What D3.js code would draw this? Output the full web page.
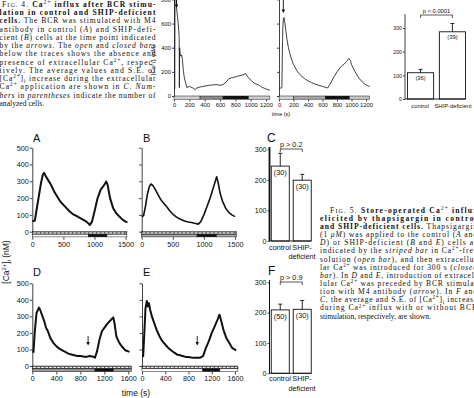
<!DOCTYPE html>
<html>
<head>
<meta charset="utf-8">
<script src="https://cdn.jsdelivr.net/npm/d3@7"></script>
<style>
  body { margin: 0; background: #fff; }
  svg { display: block; }
  text { font-family: "Liberation Sans", Arial, sans-serif; fill: #111; }
  .cap text { font-family: "Liberation Serif", "Times New Roman", serif; }
</style>
</head>
<body>
<svg id="fig" width="474" height="398"></svg>
<script>
// ---------- Fig. 4 traces: [time (s), [Ca2+]i (nM)]
var fig4Control = [[0,60],[10,62],[13,830],[28,830],[35,720],[45,660],[55,600],[65,520],[68,470],[70,70],[73,400],
  [80,350],[90,330],[100,340],[110,300],[120,220],[135,150],[150,115],[167,70],[200,80],[250,65],[277,53],[300,68],
  [343,75],[400,82],[450,88],[500,92],[563,94],[600,88],[640,95],[680,115],[716,144],[760,152],[800,158],[826,164],
  [870,170],[900,175],[936,186],[960,160],[1002,130],[1050,105],[1112,89],[1150,72],[1200,58],[1250,48]];
var fig4Ship = [[0,65],[30,66],[40,70],[45,300],[52,560],[60,640],[68,650],[80,610],[95,540],[110,470],[130,400],
  [150,350],[175,300],[200,260],[250,205],[300,170],[350,145],[400,125],[450,110],[500,98],[550,88],[600,80],
  [650,70],[670,66],[700,95],[750,150],[800,200],[850,240],[900,265],[930,285],[965,310],[985,295],[1000,260],
  [1050,200],[1100,150],[1150,115],[1200,92],[1250,78]];
var fig4XTicks = [0, 200, 400, 600, 800, 1000, 1200];
var fig4YTicks = [0, 200, 400, 600, 800];
var fig4Arrows = [33, 60];
// shading of the bar under each trace: [start, end, colour]
var fig4ControlBar = [[0,340,"#d4d4d4"],[340,640,"#8a8a8a"],[640,970,"#111"],[970,1250,"#cfcfcf"]];
var fig4ShipBar = [[0,200,"#d8d8d8"],[200,640,"#a8a8a8"],[640,970,"#111"],[970,1250,"#c8c8c8"]];

// Fig. 4 C
var groups = ["control", "SHIP-deficient"];
var fig4Means = [111, 284];
var fig4Errs = [14, 35];
var fig4Counts = ["(36)", "(39)"];
var fig4BarTicks = [0, 100, 200, 300];

// ---------- Fig. 5 traces
var traceA = [[0,63],[40,65],[60,110],[100,200],[140,290],[170,340],[190,350],[210,335],[250,310],[300,280],
  [350,240],[400,210],[450,180],[500,160],[550,140],[600,120],[650,105],[700,95],[750,85],[800,75],[850,65],
  [900,50],[925,40],[960,60],[1000,120],[1050,200],[1100,250],[1150,275],[1190,298],[1210,280],[1250,200],
  [1300,140],[1350,110],[1400,90],[1450,72],[1500,60],[1530,55]];
var traceB = [[0,90],[30,95],[60,150],[90,220],[120,265],[145,284],[180,275],[220,250],[260,222],[300,195],
  [350,170],[400,150],[450,125],[500,105],[550,90],[600,78],[650,70],[700,62],[750,58],[800,55],[850,50],
  [910,45],[950,60],[1000,100],[1050,150],[1100,200],[1150,260],[1205,327],[1230,290],[1260,230],[1300,180],
  [1350,140],[1400,115],[1450,100],[1500,90]];
var traceD = [[0,90],[20,85],[40,200],[70,320],[110,353],[130,340],[160,310],[200,270],[230,230],[250,218],
  [270,200],[300,170],[350,140],[400,120],[450,105],[500,95],[550,85],[600,75],[650,70],[700,65],[750,60],
  [800,60],[850,58],[900,55],[950,60],[1000,58],[1044,50],[1080,90],[1120,160],[1160,210],[1200,230],
  [1250,255],[1300,275],[1350,294],[1370,260],[1400,180],[1450,140],[1500,115],[1550,95],[1620,85]];
var traceE = [[0,60],[20,60],[40,200],[60,350],[83,393],[100,360],[120,380],[140,340],[170,300],[200,270],
  [250,220],[300,180],[350,150],[400,130],[450,110],[500,95],[550,82],[600,70],[650,65],[700,60],[750,55],
  [800,55],[850,52],[900,50],[950,50],[1000,50],[1050,60],[1100,110],[1150,150],[1200,200],[1250,240],
  [1300,280],[1333,310],[1350,290],[1400,220],[1450,170],[1500,140],[1550,110],[1620,95]];
var fig5YTicks = [0, 100, 200, 300, 400, 500];
var ticksAB = [0, 500, 1000, 1500];
var ticksDE = [0, 400, 800, 1200, 1600];
// open / closed bars: [start, end, colour]
var barA = [[0,900,"#fff"],[900,1200,"#111"],[1200,1520,"#fff"]];
var barB = [[0,890,"#aaa"],[890,1200,"#111"],[1200,1520,"#aaa"]];
var barD = [[0,1045,"#999"],[1045,1350,"#111"],[1350,1650,"#999"]];
var barE = [[0,1045,"#fff"],[1045,1340,"#111"],[1340,1650,"#fff"]];
var arrowD = 930, arrowE = 950;

// Fig. 5 C and F
var cMeans = [245, 199], cErrs = [42, 19], cCounts = ["(30)", "(30)"];
var fMeans = [209, 211], fErrs = [19, 29], fCounts = ["(50)", "(30)"];
var barTicks5 = [0, 100, 200, 300];

var fig4Caption = [
  "F%IG.% 4. *Ca*^2+^* influx after BCR stimu-*",
  "*lation in control and SHIP-deficient*",
  "*cells.* The BCR was stimulated with M4",
  "antibody in control (_A_) and SHIP-defi-",
  "cient (_B_) cells at the time point indicated",
  "by the _arrows_. The _open_ and _closed bars_",
  "below the traces shows the absence and",
  "presence of extracellular Ca^2+^, respec-",
  "tively. The average values and S.E. of",
  "[Ca^2+^]~i~ increase during the extracellular",
  "Ca^2+^ application are shown in _C_. _Num-_",
  "_bers_ in _parentheses_ indicate the number of",
  "analyzed cells."
];
var fig5Caption = [
  "F%IG.% 5. *Store-operated Ca*^2+^* influx*",
  "*elicited by thapsigargin in control*",
  "*and SHIP-deficient cells.* Thapsigargin",
  "(1 _μM_) was applied to the control (_A_ and",
  "_D_) or SHIP-deficient (_B_ and _E_) cells as",
  "indicated by the _striped bar_ in Ca^2+^-free",
  "solution (_open bar_), and then extracellu-",
  "lar Ca^2+^ was introduced for 300 s (_closed_",
  "_bar_). In _D_ and _E_, introduction of extracel-",
  "lular Ca^2+^ was preceded by BCR stimula-",
  "tion with M4 antibody (_arrow_). In _F_ and",
  "_C_, the average and S.E. of [Ca^2+^]~i~ increase",
  "during Ca^2+^ influx with or without BCR",
  "stimulation, respectively, are shown."
];

var svg = d3.select("#fig");

// small markup: *bold* _italic_ ^sup^ ~sub~ %smallcaps%
function richText(parent, x, y, str, size, opts) {
  opts = opts || {};
  var t = parent.append("text").attr("x", x).attr("y", y)
    .style("font-size", size + "px")
    .attr("text-anchor", opts.anchor || "start");
  if (opts.transform) t.attr("transform", opts.transform);
  var kinds = {"*": "b", "_": "i", "^": "sup", "~": "sub", "%": "sc"};
  var parts = str.split(/(\*[^*]*\*|_[^_]*_|\^[^^]*\^|~[^~]*~|%[^%]*%)/).filter(function(s) { return s.length; });
  var shift = 0;
  parts.forEach(function(s) {
    var c = s[0];
    var k = (kinds[c] && s.length > 1 && s[s.length - 1] === c) ? kinds[c] : null;
    var body = k ? s.slice(1, -1) : s;
    var ts = t.append("tspan").text(body);
    var target = 0;
    if (k === "b") ts.style("font-weight", "bold");
    if (k === "i") ts.style("font-style", "italic");
    if (k === "sup") { ts.style("font-size", size * 0.68 + "px"); target = -size * 0.38; }
    if (k === "sub") { ts.style("font-size", size * 0.68 + "px"); target = size * 0.22; }
    if (k === "sc") ts.style("font-size", size * 0.78 + "px");
    if (target !== shift) { ts.attr("dy", target - shift); shift = target; }
  });
  if (opts.width) t.attr("textLength", opts.width).attr("lengthAdjust", "spacing");
  return t;
}

function styleAxis(a, size) {
  a.selectAll("path, line").attr("stroke", "#111").attr("stroke-width", 0.8);
  a.selectAll("text").style("font-size", size + "px").attr("fill", "#111");
}

// trace panel with bars underneath
function tracePanel(p) {
  var x = d3.scaleLinear().domain(p.xDomain).range(p.xRange);
  var y = d3.scaleLinear().domain(p.yDomain).range(p.yRange);
  var g = svg.append("g");

  // bars below trace
  var barTop = p.yRange[0];
  if (p.striped) {
    g.append("rect").attr("x", x(0)).attr("y", barTop)
      .attr("width", x(p.barEnd) - x(0)).attr("height", p.stripeH)
      .attr("fill", "#666").attr("stroke", "#111").attr("stroke-width", 0.5);
    g.append("line").attr("x1", x(0) + 1).attr("x2", x(p.barEnd) - 1)
      .attr("y1", barTop + p.stripeH / 2).attr("y2", barTop + p.stripeH / 2)
      .attr("stroke", "#fff").attr("stroke-width", 1).attr("stroke-dasharray", "2.6,1.4");
    barTop += p.stripeH;
  }
  g.selectAll(".seg").data(p.bar).enter().append("rect")
    .attr("x", function(d) { return x(d[0]); })
    .attr("y", barTop)
    .attr("width", function(d) { return x(d[1]) - x(d[0]); })
    .attr("height", p.barH)
    .attr("fill", function(d) { return d[2]; })
    .attr("stroke", "#111").attr("stroke-width", 0.5);
  var barBottom = barTop + p.barH;

  // axes
  var yAxis = d3.axisLeft(y).tickValues(p.yTicks).tickSize(p.tick).tickSizeOuter(0).tickPadding(1);
  if (!p.yLabels) yAxis.tickFormat("");
  var ya = g.append("g").attr("transform", "translate(" + p.xRange[0] + ",0)").call(yAxis);
  styleAxis(ya, p.font);

  var xAxis = d3.axisBottom(x).tickValues(p.xTicks).tickFormat(d3.format("d"))
    .tickSize(p.tick).tickPadding(p.xPad);
  var xa = g.append("g").attr("transform", "translate(0," + (barBottom + 0.3) + ")").call(xAxis);
  xa.select(".domain").remove();
  styleAxis(xa, p.font);

  // trace
  var line = d3.line().x(function(d) { return x(d[0]); }).y(function(d) { return y(d[1]); });
  g.append("path").datum(p.data).attr("d", line)
    .attr("fill", "none").attr("stroke", "#111")
    .attr("stroke-width", p.sw).attr("stroke-linejoin", "round");

  // arrows
  (p.arrows || []).forEach(function(a) {
    var ax = x(a.t), y0 = a.top, y1 = a.tip;
    g.append("line").attr("x1", ax).attr("x2", ax).attr("y1", y0).attr("y2", y1 - 2)
      .attr("stroke", "#111").attr("stroke-width", 0.9);
    g.append("path").attr("d", "M" + (ax - 1.8) + "," + (y1 - 3.5) + "L" + (ax + 1.8) + "," + (y1 - 3.5) + "L" + ax + "," + y1 + "Z")
      .attr("fill", "#111");
  });

  if (p.letter) {
    g.append("text").attr("x", p.letter[0]).attr("y", p.letter[1])
      .style("font-size", "11px").text(p.letter[2]);
  }
  return g;
}

// bar chart with error bars and bracket
function barPanel(p) {
  var x = d3.scaleBand().domain(groups).range(p.xRange).paddingInner(0.18).paddingOuter(0.08);
  var y = d3.scaleLinear().domain([0, 300]).range(p.yRange);
  var g = svg.append("g");
  var bw = x.bandwidth();

  g.selectAll(".bar").data(p.means).enter().append("rect")
    .attr("x", function(d, i) { return x(groups[i]); })
    .attr("y", function(d) { return y(d); })
    .attr("width", bw)
    .attr("height", function(d) { return y(0) - y(d); })
    .attr("fill", "#fff").attr("stroke", "#111").attr("stroke-width", 0.9);

  p.means.forEach(function(m, i) {
    var cx = x(groups[i]) + bw / 2;
    g.append("line").attr("x1", cx).attr("x2", cx).attr("y1", y(m)).attr("y2", y(m + p.errs[i]))
      .attr("stroke", "#111").attr("stroke-width", 0.9);
    g.append("line").attr("x1", cx - 2).attr("x2", cx + 2).attr("y1", y(m + p.errs[i])).attr("y2", y(m + p.errs[i]))
      .attr("stroke", "#111").attr("stroke-width", 0.9);
    g.append("text").attr("x", cx).attr("y", y(m) + p.countDy).attr("text-anchor", "middle")
      .style("font-size", p.font + "px").text(p.counts[i]);
  });

  var ya = g.append("g").attr("transform", "translate(" + p.xRange[0] + ",0)")
    .call(d3.axisLeft(y).tickValues(barTicks5).tickSize(2).tickSizeOuter(0).tickPadding(1));
  ya.select(".domain").attr("d", "M0," + y(0) + "V" + p.axisTop);
  styleAxis(ya, p.tickFont);
  ya.select(".domain").attr("stroke-width", p.axisW);

  g.append("line").attr("x1", p.xRange[0]).attr("x2", x(groups[1]) + bw)
    .attr("y1", y(0)).attr("y2", y(0)).attr("stroke", "#111").attr("stroke-width", 0.9);

  // bracket
  var bx0 = x(groups[0]) + bw / 2, bx1 = x(groups[1]) + bw / 2, by = p.bracketY;
  g.append("path").attr("d", "M" + bx0 + "," + (by + 3) + "V" + by + "H" + bx1 + "V" + (by + 3))
    .attr("fill", "none").attr("stroke", "#111").attr("stroke-width", 0.7);
  g.append("text").attr("x", (bx0 + bx1) / 2).attr("y", by - 2).attr("text-anchor", "middle")
    .style("font-size", p.font + "px").text(p.pText);

  // category labels
  p.catLabels.forEach(function(c) {
    g.append("text").attr("x", c[0]).attr("y", c[1]).attr("text-anchor", "middle")
      .style("font-size", p.font + "px").text(c[2]);
  });
  if (p.letter) {
    g.append("text").attr("x", p.letter[0]).attr("y", p.letter[1])
      .style("font-size", "12px").text(p.letter[2]);
  }
}

// ---------- Fig. 4
tracePanel({
  xDomain: [0, 1200], xRange: [174, 266], yDomain: [0, 800], yRange: [96, -0.6],
  data: fig4Control, yTicks: fig4YTicks, xTicks: fig4XTicks, yLabels: true,
  bar: fig4ControlBar, barH: 3.2, striped: false, tick: 2, xPad: 1.5, font: 5.8, sw: 0.8,
  arrows: [{t: fig4Arrows[0], top: -1, tip: 8}]
});
tracePanel({
  xDomain: [0, 1200], xRange: [279, 366], yDomain: [0, 800], yRange: [96, -0.6],
  data: fig4Ship, yTicks: fig4YTicks, xTicks: fig4XTicks, yLabels: false,
  bar: fig4ShipBar, barH: 3.2, striped: false, tick: 2, xPad: 1.5, font: 5.8, sw: 0.8,
  arrows: [{t: fig4Arrows[1], top: -1, tip: 13}]
});
richText(svg, 0, 0, "[Ca^2+^]~i~ (nM)", 6, {anchor: "middle", transform: "translate(155,60) rotate(-90)"});
svg.append("text").attr("x", 281).attr("y", 116).attr("text-anchor", "middle")
  .style("font-size", "5.5px").text("time (s)");

barPanel({
  xRange: [405, 468], yRange: [99, 28], means: fig4Means, errs: fig4Errs, counts: fig4Counts,
  countDy: 7, font: 5.8, tickFont: 5.2, axisTop: 14, axisW: 0.8, bracketY: 15, pText: "p < 0.0001",
  catLabels: [[420, 108, "control"], [453, 108, "SHIP-deficient"]]
});

// ---------- Fig. 5
tracePanel({
  xDomain: [0, 1500], xRange: [32.3, 125.6], yDomain: [0, 500], yRange: [231.7, 147.7],
  data: traceA, yTicks: fig5YTicks, xTicks: ticksAB, yLabels: true,
  bar: barA, barEnd: 1520, striped: true, stripeH: 2.6, barH: 2.6, tick: 2.5, xPad: 2.5, font: 7.2, sw: 2,
  letter: [33, 142, "A"]
});
tracePanel({
  xDomain: [0, 1500], xRange: [141.7, 235], yDomain: [0, 500], yRange: [231.7, 147.7],
  data: traceB, yTicks: fig5YTicks, xTicks: ticksAB, yLabels: false,
  bar: barB, barEnd: 1520, striped: true, stripeH: 2.6, barH: 2.6, tick: 2.5, xPad: 2.5, font: 7.2, sw: 1.6,
  letter: [143, 142, "B"]
});
tracePanel({
  xDomain: [0, 1600], xRange: [32.3, 128.3], yDomain: [0, 500], yRange: [366, 283.3],
  data: traceD, yTicks: fig5YTicks, xTicks: ticksDE, yLabels: true,
  bar: barD, barEnd: 1650, striped: true, stripeH: 2.8, barH: 2.8, tick: 2.5, xPad: 1.2, font: 7.2, sw: 2,
  arrows: [{t: arrowD, top: 336, tip: 345.5}],
  letter: [33, 276, "D"]
});
tracePanel({
  xDomain: [0, 1600], xRange: [142, 235], yDomain: [0, 500], yRange: [366, 283.3],
  data: traceE, yTicks: fig5YTicks, xTicks: ticksDE, yLabels: false,
  bar: barE, barEnd: 1650, striped: true, stripeH: 2.8, barH: 2.8, tick: 2.5, xPad: 1.2, font: 7.2, sw: 2,
  arrows: [{t: arrowE, top: 336, tip: 345.5}],
  letter: [143, 276, "E"]
});
richText(svg, 0, 0, "[Ca^2+^]~i~ (nM)", 8.5, {anchor: "middle", transform: "translate(9,262) rotate(-90)"});
svg.append("text").attr("x", 136).attr("y", 396).attr("text-anchor", "middle")
  .style("font-size", "8.5px").text("time (s)");

barPanel({
  xRange: [269.5, 313], yRange: [241, 149.3], means: cMeans, errs: cErrs, counts: cCounts,
  countDy: 9, font: 7.3, tickFont: 7, axisTop: 147, axisW: 1.8, bracketY: 149, pText: "p  > 0.2",
  catLabels: [[280, 250, "control"], [302, 250, "SHIP-"], [302, 259, "deficient"]],
  letter: [267, 141.5, "C"]
});
barPanel({
  xRange: [269.5, 313], yRange: [373.3, 282.3], means: fMeans, errs: fErrs, counts: fCounts,
  countDy: 9, font: 7.3, tickFont: 7, axisTop: 280, axisW: 1, bracketY: 282, pText: "p  > 0.9",
  catLabels: [[280, 381, "control"], [302, 381, "SHIP-"], [302, 391, "deficient"]],
  letter: [268, 275, "F"]
});

// ---------- captions
var cap = svg.append("g").attr("class", "cap");
fig4Caption.forEach(function(s, i) {
  var last = i === fig4Caption.length - 1;
  var x0 = i === 0 ? 2 : -0.5;
  richText(cap, x0, 6.8 + i * 8.25, s, 7.6, {width: last ? null : 155.5 - x0});
});
fig5Caption.forEach(function(s, i) {
  var last = i === fig5Caption.length - 1;
  var x0 = i === 0 ? 330 : 320;
  richText(cap, x0, 212.6 + i * 8.15, s, 7.6, {width: last ? null : 477 - x0});
});
</script>
</body>
</html>
